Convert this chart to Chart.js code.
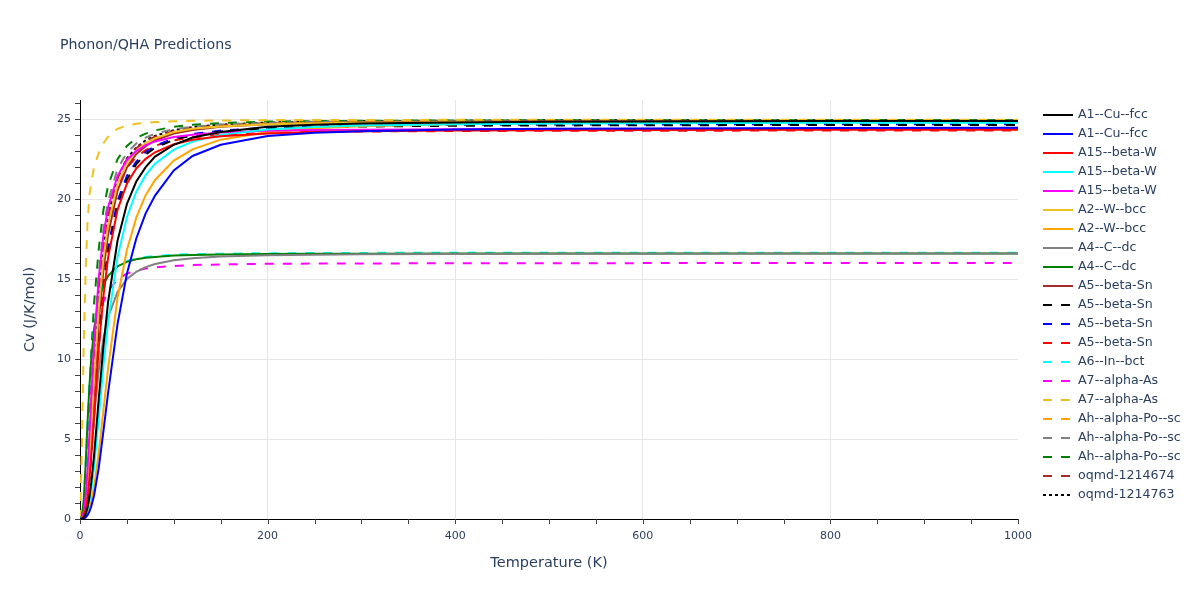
<!DOCTYPE html>
<html>
<head>
<meta charset="utf-8">
<title>Phonon/QHA Predictions</title>
<script src="https://cdn.jsdelivr.net/npm/chart.js@4.4.1/dist/chart.umd.min.js"></script>
<style>
  html, body { margin: 0; padding: 0; background: #fff; }
  #wrap { width: 1200px; height: 600px; position: relative; }
</style>
</head>
<body>
<div id="wrap"><canvas id="cvChart" width="1200" height="600"></canvas></div>
<script>
// temperature grid (K) shared by every series
const temperatures = [0, 2, 4, 6, 8, 10, 12, 15, 20, 25, 30, 40, 50, 60, 70, 80, 100, 120, 150, 200, 250, 300, 400, 500, 600, 800, 1000];

// Cv (J/K/mol)
const a1CuFccBlack   = [0, 0.01, 0.09, 0.31, 0.70, 1.35, 2.27, 3.98, 7.52, 10.8, 13.6, 17.4, 19.7, 21.1, 22.0, 22.66, 23.4, 23.85, 24.2, 24.52, 24.65, 24.73, 24.8, 24.84, 24.86, 24.88, 24.89];
const a1CuFccBlue    = [0, 0, 0.03, 0.1, 0.24, 0.46, 0.78, 1.47, 3.2, 5.51, 7.91, 12.19, 15.34, 17.54, 19.11, 20.22, 21.8, 22.7, 23.4, 23.95, 24.15, 24.25, 24.35, 24.4, 24.42, 24.45, 24.47];
const a15BetaWRed    = [0, 0.02, 0.18, 0.6, 1.34, 2.48, 3.99, 6.36, 10.69, 13.95, 16.36, 19.33, 20.97, 21.92, 22.52, 22.93, 23.43, 23.71, 23.93, 24.11, 24.2, 24.25, 24.29, 24.31, 24.32, 24.34, 24.34];
const a15BetaWCyan   = [0, 0.01, 0.07, 0.24, 0.56, 1.07, 1.8, 3.24, 6.33, 9.57, 12.34, 16.37, 18.87, 20.47, 21.5, 22.22, 23.1, 23.6, 24.02, 24.36, 24.51, 24.6, 24.69, 24.73, 24.75, 24.77, 24.78];
const a15BetaWMagenta = [0, 0.06, 0.44, 1.42, 3.07, 5.27, 7.64, 10.96, 15.08, 17.76, 19.5, 21.46, 22.45, 23.01, 23.38, 23.61, 23.89, 24.03, 24.17, 24.27, 24.32, 24.34, 24.37, 24.38, 24.39, 24.39, 24.4];
const a2WBccGold     = [0, 0.03, 0.28, 0.93, 2.1, 3.75, 5.74, 8.8, 13.2, 16.3, 18.4, 20.95, 22.25, 23.0, 23.5, 23.8, 24.2, 24.4, 24.55, 24.68, 24.74, 24.77, 24.81, 24.83, 24.83, 24.84, 24.84];
const a2WBccOrange   = [0, 0, 0.04, 0.14, 0.33, 0.63, 1.07, 1.99, 4.17, 6.81, 9.47, 13.82, 16.82, 18.84, 20.25, 21.2, 22.41, 23.11, 23.72, 24.2, 24.43, 24.56, 24.69, 24.75, 24.78, 24.81, 24.83];
const a4CDcGray      = [0, 0.03, 0.22, 0.72, 1.6, 2.84, 4.24, 6.41, 9.31, 11.29, 12.63, 14.2, 15.01, 15.46, 15.75, 15.94, 16.18, 16.3, 16.41, 16.49, 16.53, 16.55, 16.57, 16.58, 16.59, 16.6, 16.6];
const a4CDcGreen     = [0, 0.16, 1.2, 3.42, 5.99, 8.26, 10.03, 11.89, 13.7, 14.66, 15.2, 15.8, 16.08, 16.24, 16.33, 16.39, 16.47, 16.51, 16.54, 16.57, 16.58, 16.59, 16.6, 16.6, 16.6, 16.6, 16.6];
const a5BetaSnBrown  = [0, 0.03, 0.24, 0.8, 1.8, 3.25, 5.13, 8.04, 12.38, 15.58, 17.81, 20.54, 21.97, 22.82, 23.31, 23.68, 24.1, 24.33, 24.53, 24.68, 24.75, 24.79, 24.83, 24.85, 24.86, 24.87, 24.87];
const a5BetaSnBlackDash = [0, 0.02, 0.18, 0.6, 1.36, 2.51, 4.04, 6.43, 10.82, 14.12, 16.56, 19.57, 21.22, 22.19, 22.8, 23.21, 23.71, 24.0, 24.23, 24.41, 24.5, 24.54, 24.59, 24.61, 24.62, 24.64, 24.64];
const a5BetaSnBlueDash  = [0, 0.02, 0.2, 0.66, 1.47, 2.7, 4.3, 6.8, 11.3, 14.6, 17.0, 19.9, 21.45, 22.35, 22.95, 23.33, 23.8, 24.07, 24.29, 24.46, 24.54, 24.59, 24.64, 24.66, 24.67, 24.69, 24.69];
const a5BetaSnRedDash   = [0, 0.04, 0.33, 1.05, 2.35, 4.16, 6.2, 9.38, 13.63, 16.52, 18.49, 20.78, 21.97, 22.63, 23.06, 23.34, 23.68, 23.87, 24.02, 24.14, 24.2, 24.23, 24.26, 24.28, 24.28, 24.29, 24.29];
const a6InBctCyanDash   = [0, 0.16, 1.21, 3.43, 6.01, 8.28, 10.06, 11.92, 13.74, 14.7, 15.25, 15.85, 16.13, 16.29, 16.38, 16.44, 16.52, 16.56, 16.59, 16.62, 16.63, 16.64, 16.65, 16.65, 16.65, 16.65, 16.65];
const a7AlphaAsMagentaDash = [0, 0.1, 0.78, 2.35, 4.46, 6.59, 8.38, 10.37, 12.45, 13.58, 14.27, 14.98, 15.34, 15.54, 15.66, 15.74, 15.82, 15.88, 15.92, 15.96, 15.97, 15.98, 15.99, 15.99, 16.0, 16.0, 16.0];
const a7AlphaAsGoldDash    = [0, 4.5, 11.0, 15.5, 18.5, 20.2, 21.0, 22.0, 22.9, 23.5, 23.9, 24.4, 24.6, 24.72, 24.78, 24.82, 24.87, 24.9, 24.92, 24.94, 24.95, 24.95, 24.96, 24.96, 24.96, 24.96, 24.96];
const ahAlphaPoOrangeDash  = [0, 0.03, 0.24, 0.8, 1.8, 3.26, 5.13, 8.05, 12.4, 15.6, 17.84, 20.57, 22.0, 22.85, 23.35, 23.72, 24.13, 24.37, 24.57, 24.72, 24.79, 24.83, 24.87, 24.89, 24.9, 24.91, 24.91];
const ahAlphaPoGrayDash    = [0, 0.06, 0.45, 1.44, 3.14, 5.38, 7.79, 11.18, 15.39, 18.13, 19.9, 21.9, 22.91, 23.48, 23.85, 24.09, 24.38, 24.53, 24.67, 24.77, 24.82, 24.84, 24.87, 24.88, 24.89, 24.89, 24.9];
const ahAlphaPoGreenDash   = [0, 0.08, 0.7, 2.6, 5.0, 7.8, 10.4, 13.5, 16.89, 19.34, 20.86, 22.5, 23.33, 23.82, 24.1, 24.3, 24.53, 24.66, 24.76, 24.85, 24.88, 24.9, 24.92, 24.93, 24.94, 24.94, 24.95];
const oqmd1214674BrownDash = [0, 0.04, 0.33, 1.07, 2.41, 4.26, 6.35, 9.61, 13.97, 16.93, 18.95, 21.29, 22.51, 23.19, 23.63, 23.91, 24.26, 24.46, 24.61, 24.74, 24.8, 24.83, 24.86, 24.88, 24.88, 24.89, 24.89];
const oqmd1214763BlackDot  = [0, 0.04, 0.33, 1.08, 2.41, 4.27, 6.37, 9.63, 14.0, 16.97, 18.99, 21.34, 22.55, 23.24, 23.68, 23.96, 24.31, 24.51, 24.66, 24.79, 24.85, 24.88, 24.91, 24.93, 24.93, 24.94, 24.94];

const xTickLabels = [0, 200, 400, 600, 800, 1000];
const yTickLabels = [0, 5, 10, 15, 20, 25];

const DASH = [9, 9];
const DOT = [3, 3];
const FONT = '"DejaVu Sans", Verdana, sans-serif';
const TEXT_COLOR = '#2a3f5f';

const seriesList = [
  { label: 'A1--Cu--fcc', values: a1CuFccBlack, color: '#000000', dash: [] },
  { label: 'A1--Cu--fcc', values: a1CuFccBlue, color: '#0000ff', dash: [] },
  { label: 'A15--beta-W', values: a15BetaWRed, color: '#ff0000', dash: [] },
  { label: 'A15--beta-W', values: a15BetaWCyan, color: '#00ffff', dash: [] },
  { label: 'A15--beta-W', values: a15BetaWMagenta, color: '#ff00ff', dash: [] },
  { label: 'A2--W--bcc', values: a2WBccGold, color: '#f0c020', dash: [] },
  { label: 'A2--W--bcc', values: a2WBccOrange, color: '#ffa500', dash: [] },
  { label: 'A4--C--dc', values: a4CDcGray, color: '#808080', dash: [] },
  { label: 'A4--C--dc', values: a4CDcGreen, color: '#008000', dash: [] },
  { label: 'A5--beta-Sn', values: a5BetaSnBrown, color: '#a52a2a', dash: [] },
  { label: 'A5--beta-Sn', values: a5BetaSnBlackDash, color: '#000000', dash: DASH },
  { label: 'A5--beta-Sn', values: a5BetaSnBlueDash, color: '#0000ff', dash: DASH },
  { label: 'A5--beta-Sn', values: a5BetaSnRedDash, color: '#ff0000', dash: DASH },
  { label: 'A6--In--bct', values: a6InBctCyanDash, color: '#00ffff', dash: DASH },
  { label: 'A7--alpha-As', values: a7AlphaAsMagentaDash, color: '#ff00ff', dash: DASH },
  { label: 'A7--alpha-As', values: a7AlphaAsGoldDash, color: '#f0c020', dash: DASH },
  { label: 'Ah--alpha-Po--sc', values: ahAlphaPoOrangeDash, color: '#ffa500', dash: DASH },
  { label: 'Ah--alpha-Po--sc', values: ahAlphaPoGrayDash, color: '#808080', dash: DASH },
  { label: 'Ah--alpha-Po--sc', values: ahAlphaPoGreenDash, color: '#008000', dash: DASH },
  { label: 'oqmd-1214674', values: oqmd1214674BrownDash, color: '#a52a2a', dash: DASH },
  { label: 'oqmd-1214763', values: oqmd1214763BlackDot, color: '#000000', dash: DOT }
];

const datasets = seriesList.map(s => ({
  label: s.label,
  data: temperatures.map((t, i) => ({ x: t, y: s.values[i] })),
  borderColor: s.color,
  backgroundColor: s.color,
  borderWidth: 2,
  borderDash: s.dash,
  pointRadius: 0,
  pointHoverRadius: 0,
  tension: 0,
  fill: false
}));

// title, axis titles, minor ticks and legend
const decorPlugin = {
  id: 'decor',
  afterDraw(chart) {
    const ctx = chart.ctx;
    const area = chart.chartArea;
    const xs = chart.scales.x;
    const ys = chart.scales.y;

    ctx.save();
    ctx.strokeStyle = '#444';
    ctx.lineWidth = 1;
    ctx.beginPath();
    for (let v = 0; v <= 1000; v += 50) {
      const px = Math.round(xs.getPixelForValue(v)) + 0.5;
      ctx.moveTo(px, area.bottom);
      ctx.lineTo(px, area.bottom + 5);
    }
    for (let v = 0; v <= 26; v += 1) {
      const py = Math.round(ys.getPixelForValue(v)) + 0.5;
      ctx.moveTo(area.left - 5, py);
      ctx.lineTo(area.left, py);
    }
    ctx.stroke();

    ctx.fillStyle = TEXT_COLOR;
    ctx.font = '14.2px ' + FONT;
    ctx.textAlign = 'left';
    ctx.textBaseline = 'middle';
    ctx.fillText('Phonon/QHA Predictions', 60, 45);

    ctx.font = '14.5px ' + FONT;
    ctx.textAlign = 'center';
    ctx.fillText('Temperature (K)', (area.left + area.right) / 2, 563);
    ctx.save();
    ctx.translate(30, (area.top + area.bottom) / 2);
    ctx.rotate(-Math.PI / 2);
    ctx.fillText('Cv (J/K/mol)', 0, 0);
    ctx.restore();

    ctx.font = '12.6px ' + FONT;
    ctx.textAlign = 'left';
    chart.data.datasets.forEach((ds, i) => {
      const y = 115 + i * 19;
      ctx.save();
      ctx.strokeStyle = ds.borderColor;
      ctx.lineWidth = 2;
      ctx.setLineDash(ds.borderDash);
      ctx.beginPath();
      ctx.moveTo(1043, y);
      ctx.lineTo(1073, y);
      ctx.stroke();
      ctx.restore();
      ctx.fillStyle = TEXT_COLOR;
      ctx.fillText(ds.label, 1078, y);
    });
    ctx.restore();
  }
};

const gridColor = (ctx, edges) => edges.includes(ctx.tick.value) ? 'rgba(0,0,0,0)' : '#e6e6e6';

new Chart(document.getElementById('cvChart'), {
  type: 'line',
  data: { datasets },
  options: {
    responsive: false,
    animation: false,
    devicePixelRatio: 1,
    layout: { padding: { left: 0, top: 100, right: 182, bottom: 0 } },
    plugins: {
      legend: { display: false },
      title: { display: false },
      tooltip: { enabled: false }
    },
    scales: {
      x: {
        type: 'linear',
        min: 0,
        max: 1000,
        afterFit: s => { s.height = 81; },
        afterBuildTicks: s => { s.ticks = xTickLabels.map(v => ({ value: v })); },
        ticks: {
          color: TEXT_COLOR, font: { family: FONT, size: 11 }, padding: 11, maxRotation: 0,
          callback: v => String(v)
        },
        grid: { color: c => gridColor(c, [0, 1000]), drawTicks: false },
        border: { display: true, color: '#000', width: 1 }
      },
      y: {
        type: 'linear',
        min: 0,
        max: 26.2,
        afterFit: s => { s.width = 80; },
        afterBuildTicks: s => { s.ticks = yTickLabels.map(v => ({ value: v })); },
        ticks: {
          color: TEXT_COLOR, font: { family: FONT, size: 11 }, padding: 9,
          callback: v => String(v)
        },
        grid: { color: c => gridColor(c, [0]), drawTicks: false },
        border: { display: true, color: '#000', width: 1 }
      }
    }
  },
  plugins: [decorPlugin]
});
</script>
</body>
</html>
